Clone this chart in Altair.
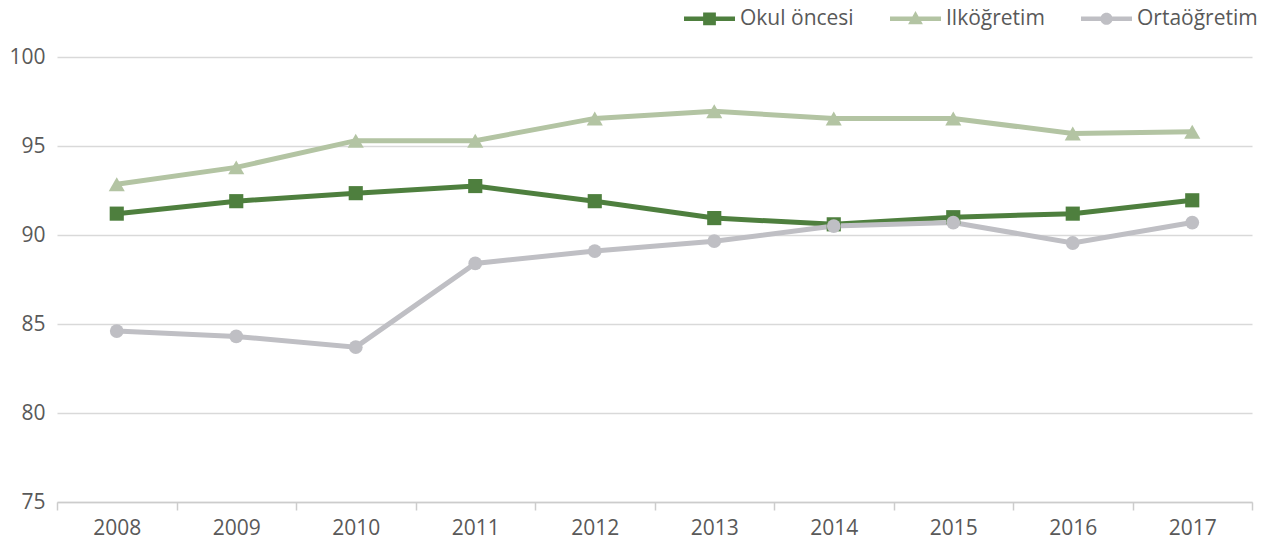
import altair as alt
import pandas as pd

years = ["2008", "2009", "2010", "2011", "2012", "2013", "2014", "2015", "2016", "2017"]
okul_oncesi = [91.2, 91.9, 92.35, 92.75, 91.9, 90.95, 90.6, 91.0, 91.2, 91.95]
ilkogretim = [92.85, 93.8, 95.3, 95.3, 96.55, 96.95, 96.55, 96.55, 95.7, 95.8]
ortaogretim = [84.6, 84.3, 83.7, 88.4, 89.1, 89.65, 90.5, 90.7, 89.55, 90.7]
series_names = ["Okul öncesi", "İlköğretim", "Ortaöğretim"]
series_colors = ["#4e7f3e", "#b3c4a3", "#bfbfc4"]
point_shapes = ["square", "triangle-up", "circle"]
point_sizes = [200, 260, 190]
y_ticks = [75, 80, 85, 90, 95, 100]

# legend symbols: line segment with a marker in the middle
legend_paths = [
    "M-1,-0.09 L1,-0.09 L1,0.09 L-1,0.09 Z M-0.25,-0.25 L0.25,-0.25 L0.25,0.25 L-0.25,0.25 Z",
    "M-1,-0.09 L1,-0.09 L1,0.09 L-1,0.09 Z M0,-0.3 L0.29,0.22 L-0.29,0.22 Z",
    "M-1,-0.09 L1,-0.09 L1,0.09 L-1,0.09 Z M-0.24,0 A0.24,0.24 0 1,1 0.24,0 A0.24,0.24 0 1,1 -0.24,0 Z",
]

rows = []
for name, vals in zip(series_names, [okul_oncesi, ilkogretim, ortaogretim]):
    for yr, v in zip(years, vals):
        rows.append({"year": yr, "value": v, "series": name})
df = pd.DataFrame(rows)

FONT = "Open Sans"
TXT = "#595959"
FS = 21

x_enc = alt.X(
    "year:N",
    sort=years,
    scale=alt.Scale(type="band", paddingInner=0, paddingOuter=0),
    axis=alt.Axis(
        title=None, labelAngle=0, grid=False, tickBand="extent",
        domainColor="#cccccc", tickColor="#cccccc", domainWidth=1.5, tickWidth=1.5,
        tickSize=8, labelPadding=7, labelFont=FONT, labelFontSize=FS, labelColor=TXT,
    ),
)
y_enc = alt.Y(
    "value:Q",
    scale=alt.Scale(domain=[75, 100], nice=False, zero=False),
    axis=alt.Axis(
        title=None, values=y_ticks, domain=False, ticks=False, labelPadding=12,
        gridColor="#d9d9d9", gridWidth=1.5, labelFont=FONT, labelFontSize=FS, labelColor=TXT,
    ),
)

base = alt.Chart(df)

line_layers = []
point_layers = []
for name, col, shp, sz in zip(series_names, series_colors, point_shapes, point_sizes):
    sub = base.transform_filter(alt.datum.series == name)
    line_layers.append(sub.mark_line(strokeWidth=5, color=col).encode(x=x_enc, y=y_enc))
    point_layers.append(
        sub.mark_point(filled=True, shape=shp, size=sz, opacity=1, color=col).encode(x=x_enc, y=y_enc)
    )

legend_spec = alt.Legend(
    title=None, orient="none", legendX=627, legendY=-64, direction="horizontal", columns=3,
    symbolSize=2601, symbolStrokeWidth=0, labelOffset=5, columnPadding=36,
    labelFont=FONT, labelFontSize=FS, labelColor=TXT, labelLimit=300,
)
legend_layer = (
    base.transform_filter("false")
    .mark_point(filled=True, opacity=1)
    .encode(
        x=x_enc, y=y_enc,
        fill=alt.Fill("series:N", scale=alt.Scale(domain=series_names, range=series_colors), legend=legend_spec),
        shape=alt.Shape("series:N", scale=alt.Scale(domain=series_names, range=legend_paths), legend=legend_spec),
    )
)

chart = (
    alt.layer(*line_layers, *point_layers, legend_layer)
    .properties(
        width=1195, height=445,
        autosize=alt.AutoSizeParams(type="none"),
        padding={"left": 49, "top": 49, "right": 14, "bottom": 41},
    )
    .configure(font=FONT)
    .configure_view(strokeWidth=0)
)

chart.save("out.html", embed_options={"renderer": "svg", "actions": False})
